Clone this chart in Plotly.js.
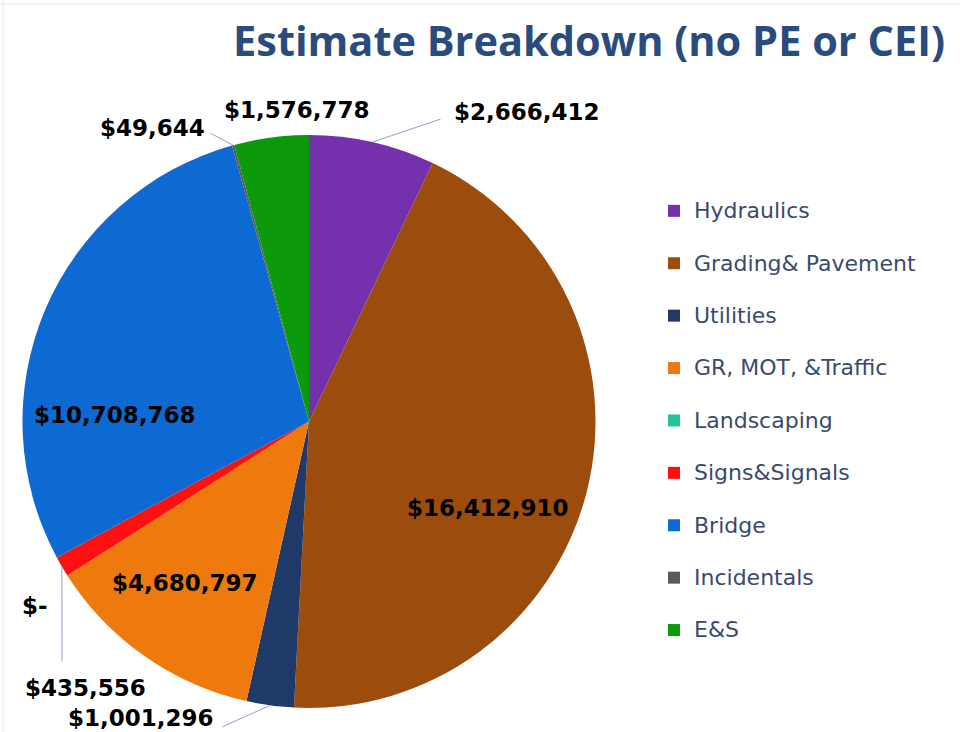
<!DOCTYPE html>
<html>
<head>
<meta charset="utf-8">
<script src="https://cdn.plot.ly/plotly-3.0.1.min.js"></script>
<style>
  html, body { margin: 0; padding: 0; background: #ffffff; }
  #chart { width: 960px; height: 732px; }
</style>
</head>
<body>
<div id="chart"></div>
<script>
// ---- data ----
const categories = ["Hydraulics", "Grading& Pavement", "Utilities", "GR, MOT, &Traffic", "Landscaping", "Signs&Signals", "Bridge", "Incidentals", "E&S"];
const values = [2666412, 16412910, 1001296, 4680797, 0, 435556, 10708768, 49644, 1576778];
const colors = ["#7530AE", "#9C4C0C", "#1F3A68", "#EE7A0E", "#22C49C", "#FF1010", "#0C6AD2", "#5A5A5A", "#0C9A0C"];
const titleText = "Estimate Breakdown (no PE or CEI)";

// ---- layout helpers ----
const W = 960, H = 732;
const domX = [18 / W, 600 / W];
const domY = [24 / H, 597 / H];

function money(v) {
  return v === 0 ? "$-" : "$" + v.toLocaleString("en-US");
}
function esc(s) { return s.replace(/&/g, "&amp;"); }

// label placement (pixel centres of the text) and leader-line tail points
const labelPlace = [
  { tx: 527, ty: 112, lead: [441, 119] },
  { tx: 488, ty: 508 },
  { tx: 141, ty: 718, lead: [222, 727] },
  { tx: 185, ty: 583 },
  { tx: 35,  ty: 606 },
  { tx: 85,  ty: 688, lead: [62, 662] },
  { tx: 115, ty: 415 },
  { tx: 152, ty: 128, lead: [210, 133] },
  { tx: 297, ty: 110 }
];

const cx = (domX[0] + domX[1]) / 2 * W;
const cy = H - (domY[0] + domY[1]) / 2 * H;
const R = Math.min((domX[1] - domX[0]) * W, (domY[1] - domY[0]) * H) / 2;
const total = values.reduce((a, b) => a + b, 0);

const labelFont = { family: "DejaVu Sans", size: 23, color: "#000000", weight: 700 };
const annotations = [];
let cum = 0;
values.forEach((v, i) => {
  const mid = (cum + v / 2) / total * 2 * Math.PI;
  cum += v;
  const p = labelPlace[i];
  annotations.push({
    xref: "paper", yref: "paper",
    x: p.tx / W, y: 1 - p.ty / H,
    xanchor: "center", yanchor: "middle",
    text: money(v), showarrow: false, font: labelFont
  });
  if (p.lead) {
    const hx = cx + R * Math.sin(mid);
    const hy = cy - R * Math.cos(mid);
    annotations.push({
      xref: "paper", yref: "paper",
      x: hx / W, y: 1 - hy / H,
      ax: p.lead[0] - hx, ay: p.lead[1] - hy,
      axref: "pixel", ayref: "pixel",
      text: "", showarrow: true, arrowhead: 0, arrowwidth: 1,
      arrowcolor: "#8EA3C4", font: { size: 1 }, borderpad: 0
    });
  }
});

const trace = {
  type: "pie",
  labels: categories.map(c => '<span style="font-size:22px">' + esc(c) + '</span><br>&nbsp;'),
  values: values,
  marker: { colors: colors, line: { width: 0 } },
  sort: false,
  direction: "clockwise",
  rotation: 0,
  textinfo: "none",
  hoverinfo: "none",
  domain: { x: domX, y: domY },
  showlegend: true
};

const layout = {
  width: W, height: H,
  margin: { l: 0, r: 0, t: 0, b: 0, pad: 0 },
  paper_bgcolor: "#ffffff",
  plot_bgcolor: "#ffffff",
  title: {
    text: titleText,
    x: 589 / W, xanchor: "center", xref: "paper",
    y: 1 - 41 / H, yanchor: "middle", yref: "container",
    font: { family: "Open Sans", size: 41.5, color: "#2A4B7D", weight: 700 }
  },
  legend: {
    x: 654 / W, xanchor: "left",
    y: 1 - 433 / H, yanchor: "middle",
    valign: "top",
    itemwidth: 30,
    bgcolor: "rgba(0,0,0,0)",
    font: { family: "DejaVu Sans", size: 19, color: "#3B4A6C" }
  },
  annotations: annotations,
  shapes: [
    { type: "line", xref: "paper", yref: "paper", x0: 0, x1: 1, y0: 1 - 4 / H, y1: 1 - 4 / H, line: { color: "#E2E5EA", width: 1 } },
    { type: "line", xref: "paper", yref: "paper", x0: 3 / W, x1: 3 / W, y0: 0, y1: 1, line: { color: "#E4E8EF", width: 1 } }
  ]
};

Plotly.newPlot("chart", [trace], layout, { displayModeBar: false, staticPlot: true });
</script>
</body>
</html>
